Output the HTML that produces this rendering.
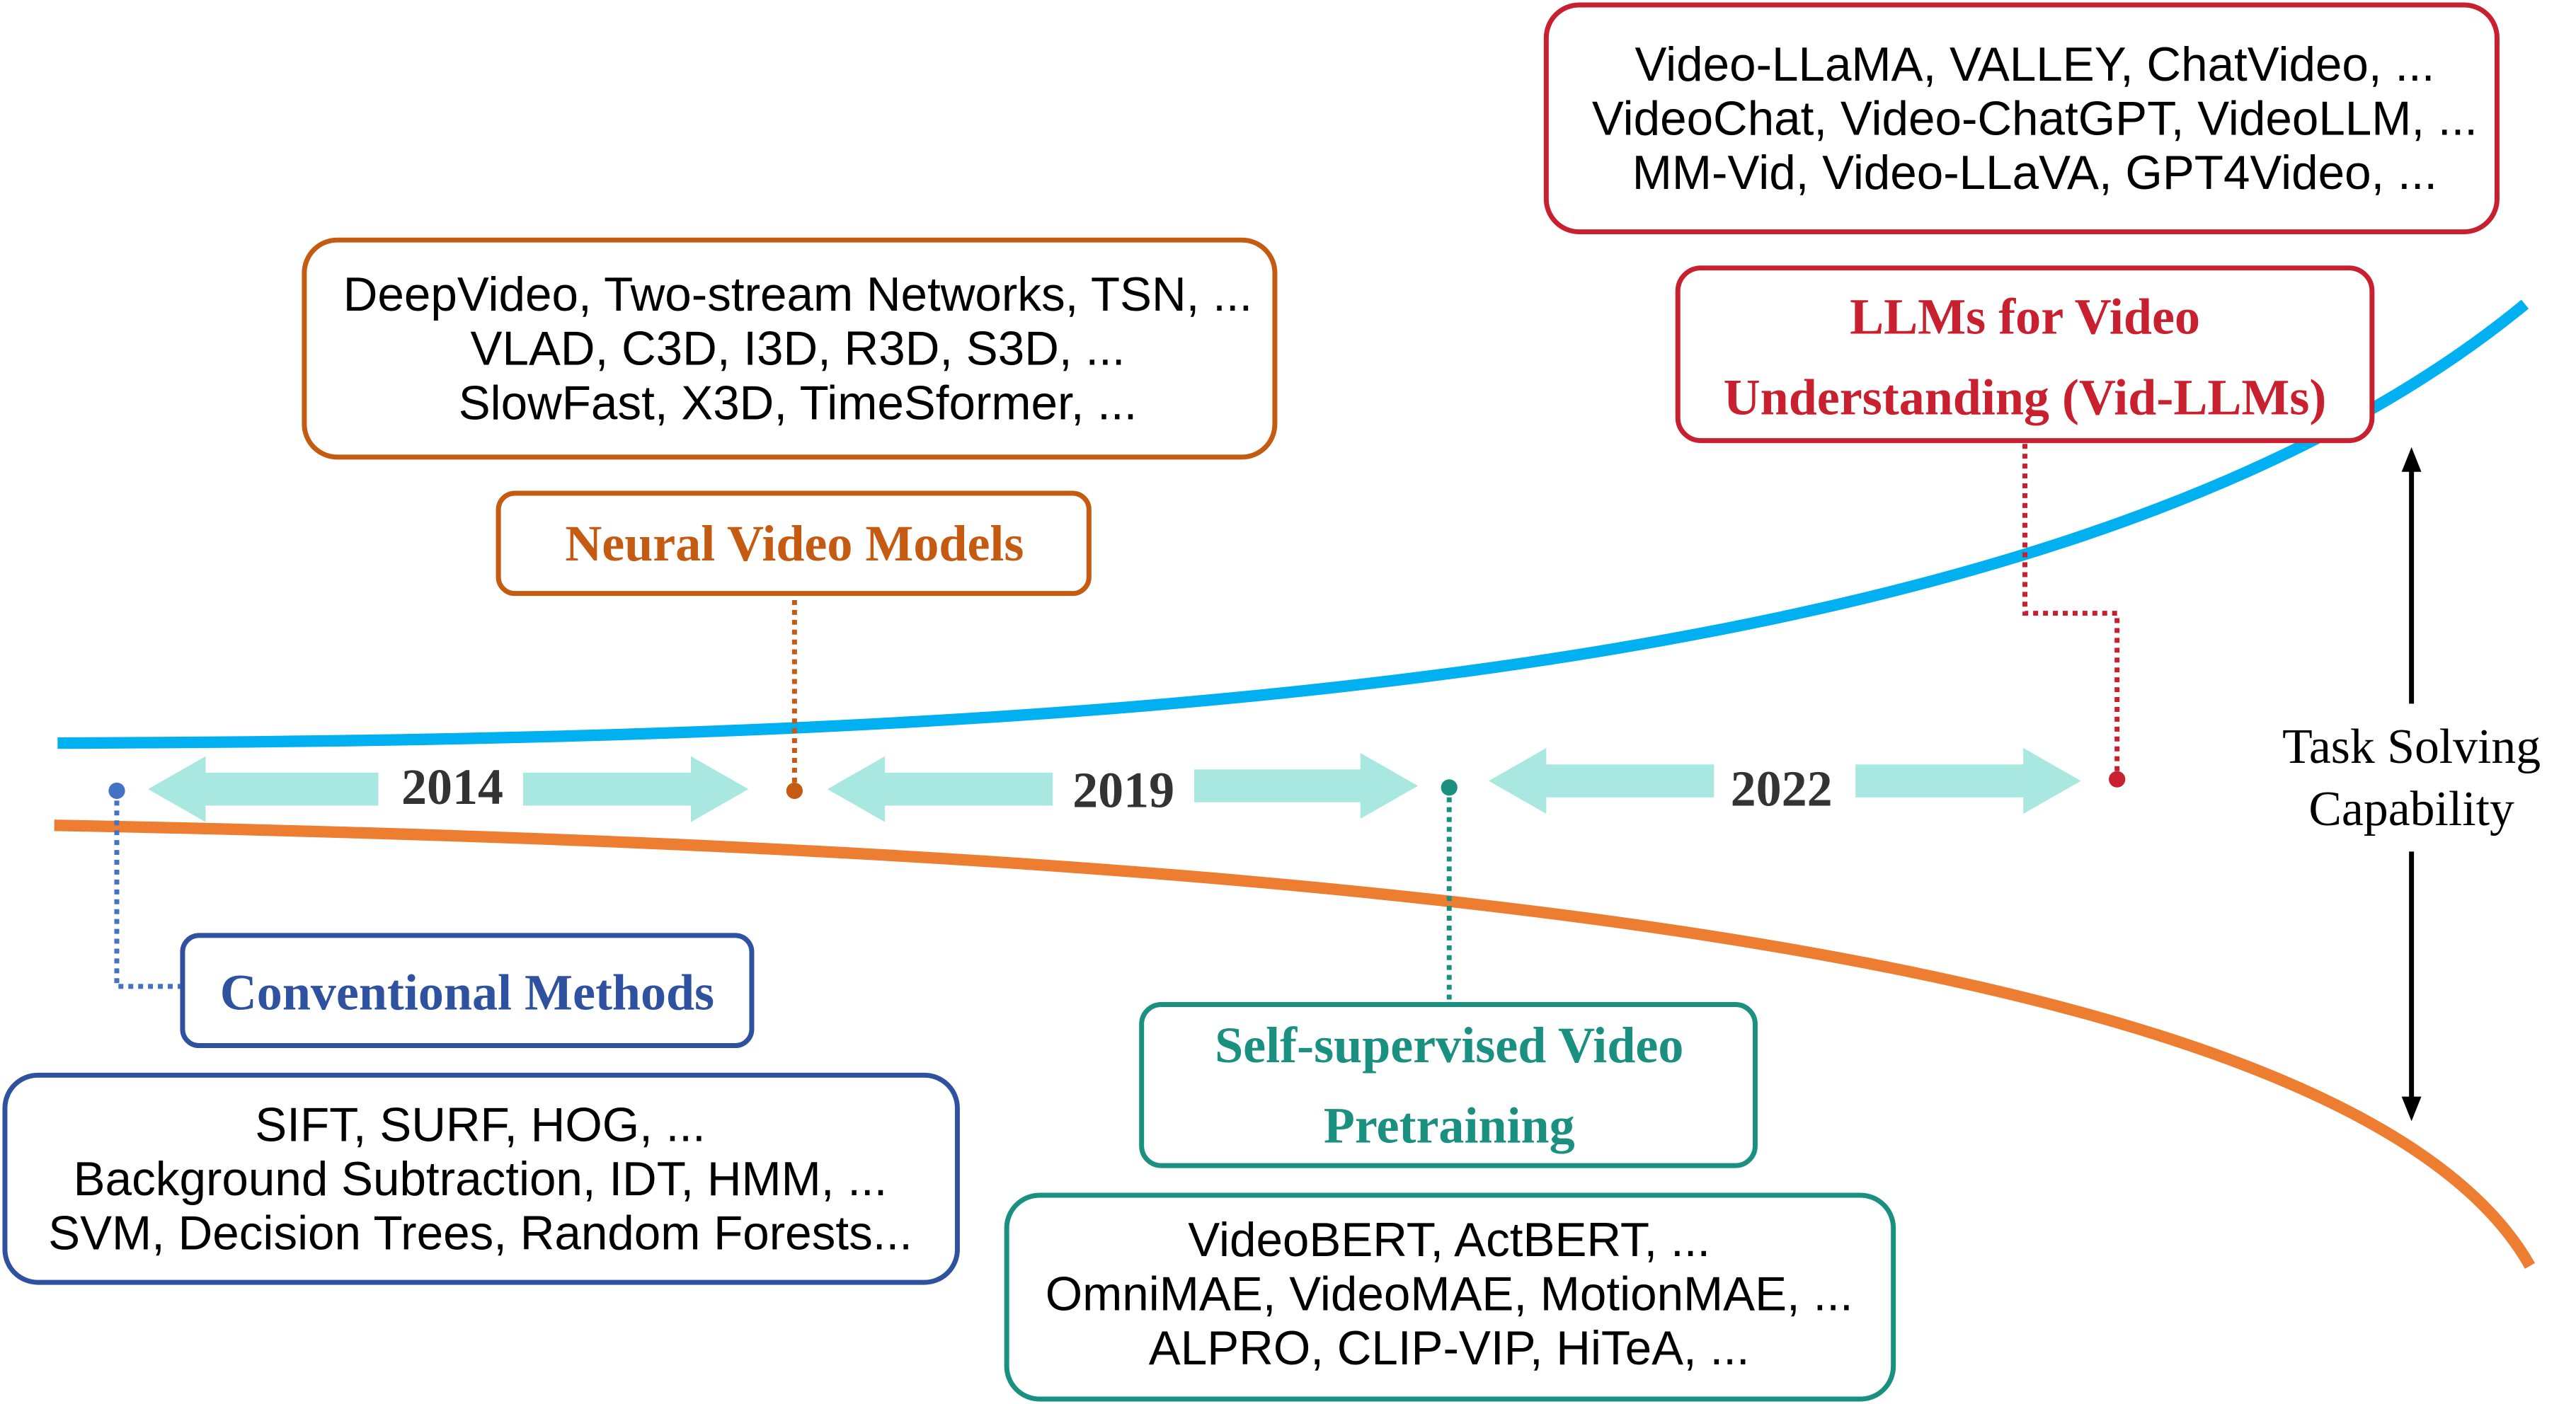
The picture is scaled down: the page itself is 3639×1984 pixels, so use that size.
<!DOCTYPE html>
<html><head><meta charset="utf-8"><style>
html,body{margin:0;padding:0;background:#fff;}
svg{display:block;}
.s{font-family:"Liberation Sans","DejaVu Sans",sans-serif;font-size:29px;fill:#000;text-anchor:middle;}
.t{font-family:"Liberation Serif",serif;font-weight:bold;font-size:31px;text-anchor:middle;}
.y{font-family:"Liberation Serif",serif;font-weight:bold;font-size:31px;text-anchor:middle;fill:#333;}
</style></head><body>
<svg width="3639" height="1984" viewBox="0 0 1566 854" preserveAspectRatio="none" xmlns="http://www.w3.org/2000/svg">
<rect width="1566" height="854" fill="#fff"/>
<path d="M35 452 C 650 450, 1250 420, 1535 185" fill="none" stroke="#00b0f0" stroke-width="7"/>
<path d="M33 502 C 700 515, 1420 560, 1538 770" fill="none" stroke="#ed7d31" stroke-width="7"/>
<g fill="none" stroke-width="3" stroke-dasharray="3,3">
<path d="M483 365 V480" stroke="#c55a11"/>
<path d="M1231 270 V373 H1287 V473" stroke="#c8202f"/>
<path d="M71 481 V600 H110" stroke="#4472c4"/>
<path d="M881 479 V610" stroke="#1a9080"/>
</g>
<circle cx="483" cy="481" r="5" fill="#c55a11"/>
<circle cx="1287" cy="474" r="5" fill="#c8202f"/>
<circle cx="71" cy="481" r="5" fill="#4472c4"/>
<circle cx="881" cy="479" r="5" fill="#1a9080"/>
<g fill="#a8e8e0">
<polygon points="90,480 125,460 125,470 230,470 230,490 125,490 125,500"/>
<polygon points="455,480 420,460 420,470 318,470 318,490 420,490 420,500"/>
<polygon points="503,480 538,460 538,470 640,470 640,490 538,490 538,500"/>
<polygon points="862,478 827,458 827,468 726,468 726,488 827,488 827,498"/>
<polygon points="905,475 940,455 940,465 1042,465 1042,485 940,485 940,495"/>
<polygon points="1265,475 1230,455 1230,465 1128,465 1128,485 1230,485 1230,495"/>
</g>
<text class="y" x="275" y="489">2014</text>
<text class="y" x="683" y="491">2019</text>
<text class="y" x="1083" y="490">2022</text>
<text class="s" x="1466" y="464" style="font-family:'Liberation Serif',serif;font-size:30px">Task Solving</text>
<text class="s" x="1466" y="502" style="font-family:'Liberation Serif',serif;font-size:30px">Capability</text>
<path d="M1466 428 V285" stroke="#000" stroke-width="3"/>
<polygon points="1466,272 1460,287 1472,287" fill="#000"/>
<path d="M1466 518 V668" stroke="#000" stroke-width="3"/>
<polygon points="1466,682 1460,667 1472,667" fill="#000"/>
<g fill="#fff" stroke-width="3">
<rect x="940" y="3" width="578" height="138" rx="20" stroke="#c8202f"/>
<rect x="1020" y="163" width="422" height="105" rx="14" stroke="#c8202f"/>
<rect x="185" y="146" width="590" height="132" rx="20" stroke="#c55a11"/>
<rect x="303" y="300" width="359" height="61" rx="10" stroke="#c55a11"/>
<rect x="111" y="569" width="346" height="67" rx="10" stroke="#2f52a0"/>
<rect x="3" y="654" width="579" height="126" rx="20" stroke="#2f52a0"/>
<rect x="694" y="611" width="373" height="98" rx="12" stroke="#1a9080"/>
<rect x="612" y="727" width="539" height="124" rx="20" stroke="#1a9080"/>
</g>
<text class="s" x="1237" y="49">Video-LLaMA, VALLEY, ChatVideo, ...</text>
<text class="s" x="1237" y="82">VideoChat, Video-ChatGPT, VideoLLM, ...</text>
<text class="s" x="1237" y="115">MM-Vid, Video-LLaVA, GPT4Video, ...</text>
<text class="t" x="1231" y="203" fill="#c8202f">LLMs for Video</text>
<text class="t" x="1231" y="252" fill="#c8202f">Understanding (Vid-LLMs)</text>
<text class="s" x="485" y="189">DeepVideo, Two-stream Networks, TSN, ...</text>
<text class="s" x="485" y="222">VLAD, C3D, I3D, R3D, S3D, ...</text>
<text class="s" x="485" y="255">SlowFast, X3D, TimeSformer, ...</text>
<text class="t" x="483" y="341" fill="#c55a11">Neural Video Models</text>
<text class="t" x="284" y="614" fill="#2f52a0">Conventional Methods</text>
<text class="s" x="292" y="694">SIFT, SURF, HOG, ...</text>
<text class="s" x="292" y="727">Background Subtraction, IDT, HMM, ...</text>
<text class="s" x="292" y="760">SVM, Decision Trees, Random Forests...</text>
<text class="t" x="881" y="646" fill="#1a9080">Self-supervised Video</text>
<text class="t" x="881" y="695" fill="#1a9080">Pretraining</text>
<text class="s" x="881" y="764">VideoBERT, ActBERT, ...</text>
<text class="s" x="881" y="797">OmniMAE, VideoMAE, MotionMAE, ...</text>
<text class="s" x="881" y="830">ALPRO, CLIP-VIP, HiTeA, ...</text>
</svg>
</body></html>
